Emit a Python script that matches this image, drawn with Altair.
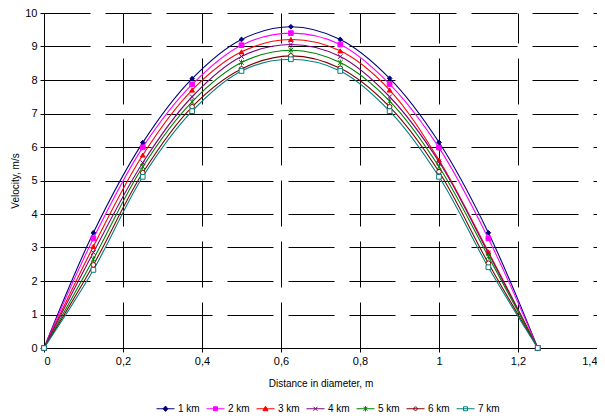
import altair as alt
import pandas as pd

x_vals = [0, 0.125, 0.25, 0.375, 0.5, 0.625, 0.75, 0.875, 1.0, 1.125, 1.25]
series_names = ["1 km", "2 km", "3 km", "4 km", "5 km", "6 km", "7 km"]
v1 = [0, 3.44, 6.13, 8.04, 9.21, 9.59, 9.21, 8.05, 6.14, 3.44, 0]
v2 = [0, 3.27, 5.99, 7.87, 9.04, 9.40, 9.06, 7.88, 5.98, 3.27, 0]
v3 = [0, 3.03, 5.76, 7.70, 8.84, 9.21, 8.87, 7.70, 5.61, 2.87, 0]
v4 = [0, 2.85, 5.53, 7.50, 8.70, 9.06, 8.70, 7.50, 5.56, 2.83, 0]
v5 = [0, 2.65, 5.41, 7.35, 8.52, 8.89, 8.52, 7.37, 5.41, 2.73, 0]
v6 = [0, 2.48, 5.23, 7.20, 8.33, 8.72, 8.35, 7.20, 5.26, 2.53, 0]
v7 = [0, 2.33, 5.11, 7.07, 8.27, 8.62, 8.27, 7.07, 5.11, 2.41, 0]
all_vals = [v1, v2, v3, v4, v5, v6, v7]

x_ticks = [0, 0.2, 0.4, 0.6, 0.8, 1.0, 1.2, 1.4]
y_ticks = [0, 1, 2, 3, 4, 5, 6, 7, 8, 9, 10]

stroke_colors = ["#000080", "#FF00FF", "#FF0000", "#800080", "#008000", "#800000", "#008080"]
fill_colors = ["#000080", "#FF00FF", "#FF0000", "#800080", "#008000", "#FFFFFF", "#FFFFFF"]

marker_shapes = [
    "diamond",
    "square",
    "triangle-up",
    "M-1,-1L1,1M-1,1L1,-1",
    "M-1,-1L1,1M-1,1L1,-1M0,-1.3L0,1.3",
    "circle",
    "square",
]
legend_shapes = [
    "M-1,0L1,0M0,-0.3L0.27,0L0,0.3L-0.27,0Z",
    "M-1,0L1,0M-0.22,-0.22L0.22,-0.22L0.22,0.22L-0.22,0.22Z",
    "M-1,0L1,0M0,-0.28L0.28,0.22L-0.28,0.22Z",
    "M-1,0L1,0M-0.22,-0.22L0.22,0.22M-0.22,0.22L0.22,-0.22",
    "M-1,0L1,0M-0.22,-0.22L0.22,0.22M-0.22,0.22L0.22,-0.22M0,-0.3L0,0.3",
    "M-1,0L1,0M-0.2,0A0.2,0.2 0 1,0 0.2,0A0.2,0.2 0 1,0 -0.2,0Z",
    "M-1,0L1,0M-0.22,-0.22L0.22,-0.22L0.22,0.22L-0.22,0.22Z",
]

rows = []
for name, vals in zip(series_names, all_vals):
    for xv, yv in zip(x_vals, vals):
        rows.append({"x": xv, "v": yv, "series": name, "lseries": name})
df = pd.DataFrame(rows)

FONT = "Liberation Sans"

x_axis = alt.Axis(
    values=x_ticks,
    title="Distance in diameter, m",
    labelExpr="replace(format(datum.value, '~g'), '.', ',')",
    grid=True,
    gridColor="black",
    gridDash=[46, 15],
    gridDashOffset=16,
    gridWidth=1,
    gridOpacity=1,
    domainColor="black",
    tickColor="black",
    tickSize=4,
    labelPadding=3,
    labelFontSize=11,
    labelFont=FONT,
    labelColor="black",
    labelOverlap=False,
    labelBound=False,
    titleFont=FONT,
    titleFontSize=10,
    titleFontWeight="normal",
    titleColor="black",
    titlePadding=12,
)
y_axis = alt.Axis(
    values=y_ticks,
    title="Velocity, m/s",
    grid=True,
    gridColor="black",
    gridDash=[46, 15],
    gridDashOffset=0,
    gridWidth=1,
    gridOpacity=1,
    domainColor="black",
    tickColor="black",
    tickSize=4,
    labelPadding=3,
    labelFontSize=11,
    labelFont=FONT,
    labelColor="black",
    labelOverlap=False,
    titleFont=FONT,
    titleFontSize=10,
    titleFontWeight="normal",
    titleColor="black",
    titleX=-29,
    titleY=167.5,
    titleBaseline="middle",
    titleAlign="center",
)

x_scale = alt.Scale(domain=[0, 1.4], nice=False)
y_scale = alt.Scale(domain=[0, 10], nice=False)


def xe():
    return alt.X("x:Q", scale=x_scale, axis=x_axis)


def ye():
    return alt.Y("v:Q", scale=y_scale, axis=y_axis)


stroke_scale = alt.Scale(domain=series_names, range=stroke_colors)
fill_scale = alt.Scale(domain=series_names, range=fill_colors)

base = alt.Chart(df)

lines = base.mark_line(interpolate="catmull-rom", strokeWidth=1.1).encode(
    x=xe(),
    y=ye(),
    stroke=alt.Stroke("series:N", scale=stroke_scale, legend=None),
    detail="series:N",
)

points = base.mark_point(size=22, strokeWidth=1, opacity=1).encode(
    x=xe(),
    y=ye(),
    stroke=alt.Stroke("series:N", scale=stroke_scale, legend=None),
    fill=alt.Fill("series:N", scale=fill_scale, legend=None),
    shape=alt.Shape("series:N", scale=alt.Scale(domain=series_names, range=marker_shapes), legend=None),
)

legend_layer = base.transform_filter("false").mark_point(size=324, strokeWidth=1, opacity=1).encode(
    x=xe(),
    y=ye(),
    stroke=alt.Stroke("lseries:N", scale=stroke_scale, legend=alt.Legend(title=None)),
    fill=alt.Fill("lseries:N", scale=fill_scale, legend=alt.Legend(title=None)),
    shape=alt.Shape(
        "lseries:N",
        scale=alt.Scale(domain=series_names, range=legend_shapes),
        legend=alt.Legend(title=None),
    ),
)

chart = (
    alt.layer(lines, points, legend_layer)
    .resolve_scale(shape="independent", fill="independent", stroke="independent")
    .properties(
        width=553,
        height=335,
        autosize=alt.AutoSizeParams(type="none"),
        padding={"left": 36, "top": 5, "right": 0, "bottom": 68},
        background="white",
    )
    .configure_view(stroke=None)
    .configure_legend(
        orient="none",
        symbolSize=324,
        symbolStrokeWidth=1,
        labelFont=FONT,
        labelFontSize=10,
        labelColor="black",
        labelOffset=3,
        columnPadding=4,
        direction="horizontal",
        legendX=112,
        legendY=386,
        padding=0,
    )
)

chart.save("out.html", embed_options={"renderer": "svg", "actions": False})
